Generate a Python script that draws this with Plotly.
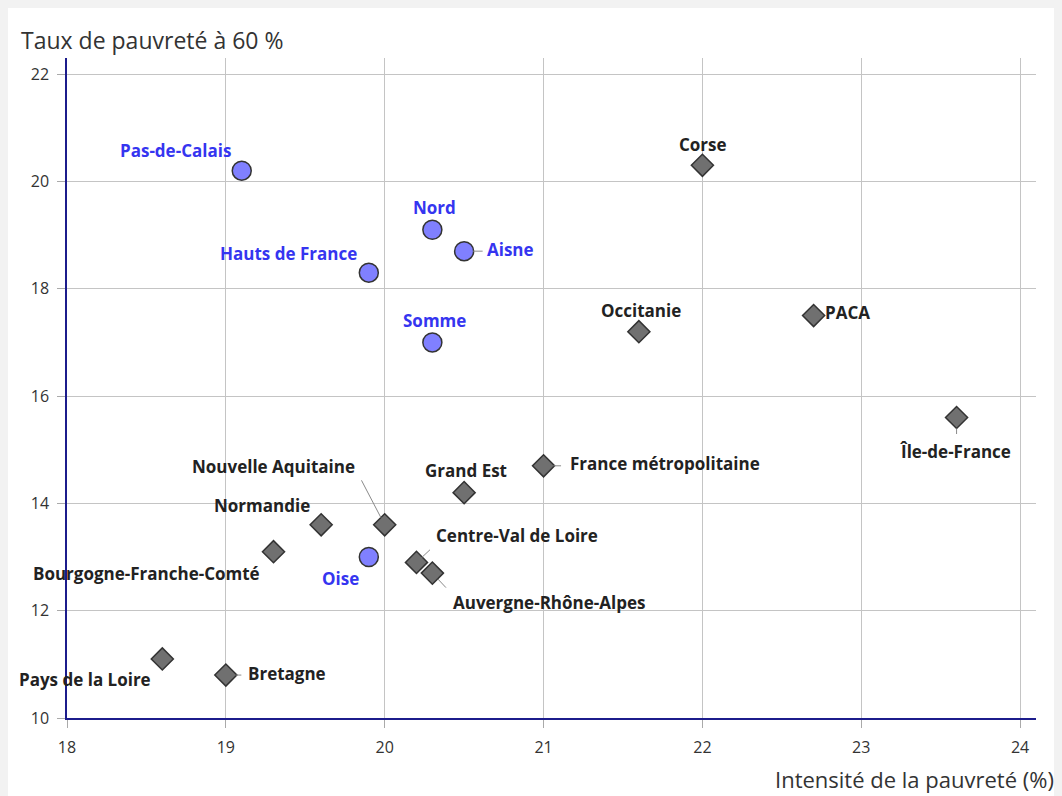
import plotly.graph_objects as go

# Hauts-de-France departments (blue circles)
hdf_names = ["Pas-de-Calais", "Nord", "Aisne", "Hauts de France", "Somme", "Oise"]
hdf_intensite = [19.1, 20.3, 20.5, 19.9, 20.3, 19.9]
hdf_taux = [20.2, 19.1, 18.7, 18.3, 17.0, 13.0]

# other regions (grey diamonds)
reg_names = ["Corse", "Occitanie", "PACA", "Île-de-France", "France métropolitaine",
             "Grand Est", "Nouvelle Aquitaine", "Normandie", "Bourgogne-Franche-Comté",
             "Centre-Val de Loire", "Auvergne-Rhône-Alpes", "Pays de la Loire", "Bretagne"]
reg_intensite = [22.0, 21.6, 22.7, 23.6, 21.0, 20.5, 20.0, 19.6, 19.3, 20.2, 20.3, 18.6, 19.0]
reg_taux = [20.3, 17.2, 17.5, 15.6, 14.7, 14.2, 13.6, 13.6, 13.1, 12.9, 12.7, 11.1, 10.8]

# label centre offsets in pixels (dx, dy) from the marker
label_pos = {
    "Pas-de-Calais": (-66, -20), "Nord": (2, -22), "Aisne": (46, -2),
    "Hauts de France": (-80, -19), "Somme": (2, -22), "Oise": (-28, 21),
    "Corse": (1, -21), "Occitanie": (2, -21), "PACA": (34, -3),
    "Île-de-France": (-1, 34), "France métropolitaine": (121, -2),
    "Grand Est": (2, -22), "Nouvelle Aquitaine": (-111, -58),
    "Normandie": (-59, -19), "Bourgogne-Franche-Comté": (-127, 22),
    "Centre-Val de Loire": (101, -27), "Auvergne-Rhône-Alpes": (117, 29),
    "Pays de la Loire": (-77, 21), "Bretagne": (61, -2),
}
# leader lines: far end offset (dx, dy) and gap left near the marker
leader = {
    "Aisne": (20, 0, 9), "Île-de-France": (0, 18, 11),
    "France métropolitaine": (19, 0, 10), "Nouvelle Aquitaine": (-24, -46, 8),
    "Centre-Val de Loire": (15, -14, 7), "Auvergne-Rhône-Alpes": (15, 16, 8),
    "Bretagne": (17, 0, 10),
}

FONT = "Open Sans"
BLUE_TXT = "#3535f0"
DARK_TXT = "#222222"

fig = go.Figure()

fig.add_trace(go.Scatter(
    x=reg_intensite, y=reg_taux, mode="markers", name="Régions",
    marker=dict(symbol="diamond", size=17, color="#707070",
                line=dict(color="#333333", width=1.5)),
    hoverinfo="text", text=reg_names,
))
fig.add_trace(go.Scatter(
    x=hdf_intensite, y=hdf_taux, mode="markers", name="Hauts-de-France",
    marker=dict(symbol="circle", size=19, color="#8080ff",
                line=dict(color="#333333", width=1.5)),
    hoverinfo="text", text=hdf_names,
))

annotations = []
for names, xs, ys, col in [(hdf_names, hdf_intensite, hdf_taux, BLUE_TXT),
                           (reg_names, reg_intensite, reg_taux, DARK_TXT)]:
    for n, x, y in zip(names, xs, ys):
        dx, dy = label_pos[n]
        annotations.append(dict(x=x, y=y, text="<b>%s</b>" % n, showarrow=False,
                                xshift=dx, yshift=-dy,
                                font=dict(family=FONT, size=17, color=col)))
        if n in leader:
            lx, ly, gap = leader[n]
            annotations.append(dict(x=x, y=y, text="", showarrow=True, ax=lx, ay=ly,
                                    arrowhead=0, arrowwidth=1, arrowcolor="#8a8a8a",
                                    standoff=gap))

# axis titles
annotations.append(dict(xref="paper", yref="paper", x=-0.0495, y=1.027,
                        xanchor="left", yanchor="middle", showarrow=False,
                        text="Taux de pauvreté à 60 %",
                        font=dict(family=FONT, size=23, color="#333333")))
annotations.append(dict(xref="paper", yref="paper", x=1.0196, y=-0.092,
                        xanchor="right", yanchor="middle", showarrow=False,
                        borderpad=0,
                        text="Intensité de la pauvreté (%)",
                        font=dict(family=FONT, size=22, color="#333333")))

fig.update_layout(
    width=1054, height=788,
    margin=dict(l=59, r=26, t=50, b=78),
    paper_bgcolor="white",
    plot_bgcolor="white",
    showlegend=False,
    font=dict(family=FONT, size=16, color="#333333"),
    annotations=annotations,
    xaxis=dict(range=[18, 24.1], dtick=1, tick0=18, showgrid=True,
               gridcolor="#c4c4c4", gridwidth=1, zeroline=False,
               showline=True, linecolor="#1c1c8c", linewidth=1.5,
               ticks="outside", ticklen=8, tickcolor="#aaaaaa",
               ticklabelstandoff=6, tickfont=dict(size=16, color="#333333")),
    yaxis=dict(range=[10, 22.3], dtick=2, tick0=10, showgrid=True,
               gridcolor="#c4c4c4", gridwidth=1, zeroline=False,
               showline=True, linecolor="#1c1c8c", linewidth=1.5,
               ticks="outside", ticklen=8, tickcolor="#aaaaaa",
               ticklabelstandoff=5, tickfont=dict(size=16, color="#333333")),
)

fig.write_html("out.html", post_script="document.body.style.background='#f2f2f2';")
